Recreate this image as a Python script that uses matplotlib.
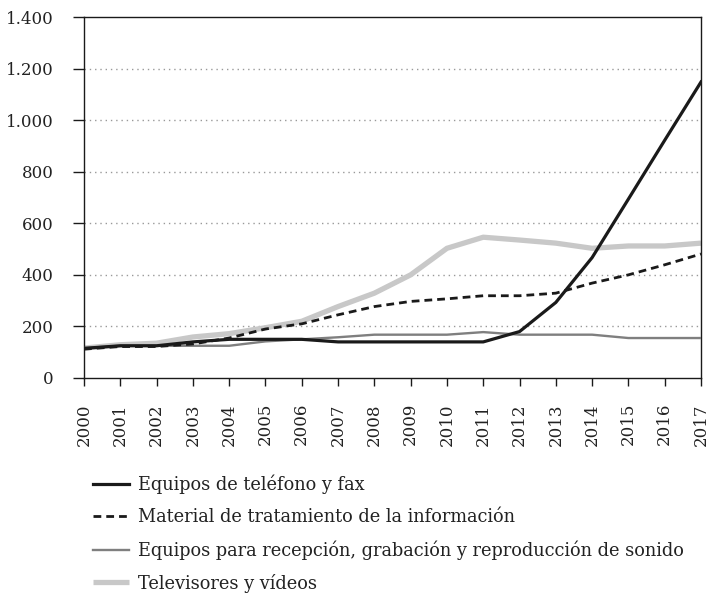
import matplotlib
matplotlib.use("Agg")
import matplotlib.pyplot as plt
from matplotlib.ticker import FuncFormatter

years = list(range(2000, 2018))
telefono = [115, 125, 125, 140, 150, 150, 150, 140, 140, 140, 140, 140, 180, 293, 467, 694, 922, 1148]
material = [112, 122, 122, 132, 155, 190, 210, 245, 277, 297, 307, 319, 319, 329, 368, 400, 439, 481]
sonido = [116, 125, 125, 125, 125, 142, 150, 158, 168, 168, 168, 178, 168, 168, 168, 155, 155, 155]
televisores = [116, 129, 135, 159, 172, 195, 220, 277, 329, 400, 503, 546, 535, 523, 503, 512, 512, 523]

labels = ["Equipos de teléfono y fax",
          "Material de tratamiento de la información",
          "Equipos para recepción, grabación y reproducción de sonido",
          "Televisores y vídeos"]

plt.rcParams['font.family'] = ['DejaVu Serif', 'Liberation Serif']

fig = plt.figure(figsize=(7.09, 6.03), dpi=100)
ax = fig.add_axes([84/709, 1-378/603, (701-84)/709, (378-17)/603])

l4, = ax.plot(years, televisores, color='#c8c8c8', lw=3.8, solid_capstyle='butt', zorder=2)
l3, = ax.plot(years, sonido, color='#7f7f7f', lw=1.7, zorder=3)
l2, = ax.plot(years, material, color='#1a1a1a', lw=2.0, ls=(0, (2.8, 1.8)), zorder=4)
l1, = ax.plot(years, telefono, color='#1a1a1a', lw=2.3, zorder=5)

ax.set_xlim(2000, 2017)
ax.set_ylim(0, 1400)
ax.set_yticks(range(0, 1401, 200))
ax.yaxis.set_major_formatter(FuncFormatter(lambda v, p: f"{int(v):,}".replace(",", ".")))
ax.set_xticks(years)
ax.set_xticklabels([str(y) for y in years], rotation=90)
for y in range(200, 1400, 200):
    ax.axhline(y, color='#999999', lw=1.0, ls=(0, (1, 2.8)), zorder=1)

for s in ax.spines.values():
    s.set_color('#1a1a1a')
    s.set_linewidth(1.0)
ax.tick_params(axis='y', length=8, width=1.0, labelsize=12, pad=14, color='#1a1a1a', labelcolor='#222222')
ax.tick_params(axis='x', length=6, width=1.0, labelsize=12, pad=12, color='#1a1a1a', labelcolor='#222222')

leg = fig.legend([l1, l2, l3, l4], labels, loc='upper left', bbox_to_anchor=(93/709, 1-475/603),
                 frameon=False, fontsize=12.8, handlelength=2.0, handletextpad=0.55,
                 labelspacing=0.78, borderaxespad=0, borderpad=0)
for t in leg.get_texts():
    t.set_color('#222222')

fig.savefig("out.png", dpi=100)
